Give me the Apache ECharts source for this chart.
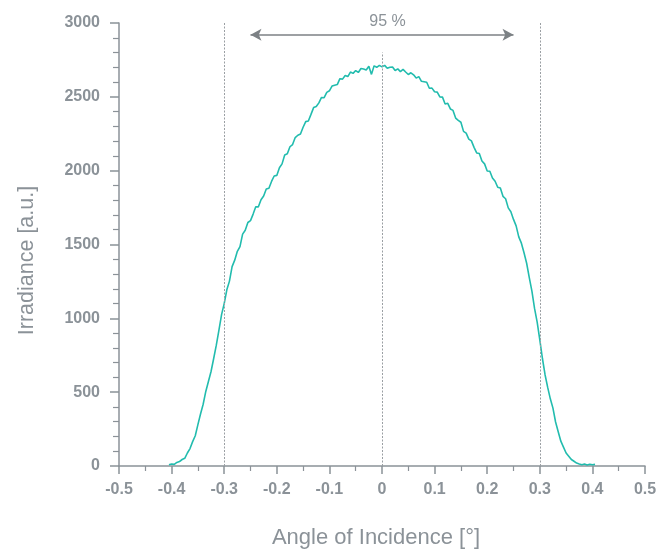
<!DOCTYPE html>
<html>
<head>
<meta charset="utf-8">
<script src="https://cdn.jsdelivr.net/npm/echarts@6/dist/echarts.min.js"></script>
<style>html,body{margin:0;padding:0;background:#fff;}#c{width:671px;height:554px;}</style>
</head>
<body>
<div id="c"></div>
<script>
const angles = [-0.405,-0.400,-0.395,-0.390,-0.385,-0.380,-0.375,-0.370,-0.365,-0.360,-0.355,-0.350,-0.345,-0.340,-0.335,-0.330,-0.325,-0.320,-0.315,-0.310,-0.305,-0.300,-0.295,-0.290,-0.285,-0.280,-0.275,-0.270,-0.265,-0.260,-0.255,-0.250,-0.245,-0.240,-0.235,-0.230,-0.225,-0.220,-0.215,-0.210,-0.205,-0.200,-0.195,-0.190,-0.185,-0.180,-0.175,-0.170,-0.165,-0.160,-0.155,-0.150,-0.145,-0.140,-0.135,-0.130,-0.125,-0.120,-0.115,-0.110,-0.105,-0.100,-0.095,-0.090,-0.085,-0.080,-0.075,-0.070,-0.065,-0.060,-0.055,-0.050,-0.045,-0.040,-0.035,-0.030,-0.025,-0.020,-0.015,-0.010,-0.005,0.000,0.005,0.010,0.015,0.020,0.025,0.030,0.035,0.040,0.045,0.050,0.055,0.060,0.065,0.070,0.075,0.080,0.085,0.090,0.095,0.100,0.105,0.110,0.115,0.120,0.125,0.130,0.135,0.140,0.145,0.150,0.155,0.160,0.165,0.170,0.175,0.180,0.185,0.190,0.195,0.200,0.205,0.210,0.215,0.220,0.225,0.230,0.235,0.240,0.245,0.250,0.255,0.260,0.265,0.270,0.275,0.280,0.285,0.290,0.295,0.300,0.305,0.310,0.315,0.320,0.325,0.330,0.335,0.340,0.345,0.350,0.355,0.360,0.365,0.370,0.375,0.380,0.385,0.390,0.395,0.400,0.405];
const irradiance = [8,14,11,24,30,44,52,88,118,165,205,280,352,418,505,572,640,728,818,920,1025,1100,1193,1252,1350,1394,1454,1486,1570,1596,1649,1662,1706,1755,1755,1803,1828,1876,1881,1927,1964,1968,2020,2046,2106,2114,2162,2177,2224,2240,2248,2294,2332,2336,2381,2427,2434,2459,2496,2494,2530,2541,2573,2579,2583,2623,2620,2644,2637,2668,2659,2678,2665,2692,2689,2682,2707,2652,2710,2700,2713,2703,2713,2693,2700,2702,2678,2689,2671,2686,2668,2651,2663,2649,2627,2637,2605,2602,2599,2558,2559,2534,2532,2500,2498,2452,2456,2418,2408,2356,2340,2328,2266,2254,2214,2202,2158,2120,2116,2066,2046,1998,1996,1950,1928,1888,1882,1826,1810,1748,1722,1670,1626,1552,1509,1444,1373,1276,1184,1067,974,854,728,618,532,455,392,298,232,168,128,88,66,44,32,20,14,9,13,7,12,8,11];
const guideAngles = [-0.3, 0, 0.3];
const guideTops = [3000, 2800, 3000];
const arrowSpan = [-0.25, 0.25];
const arrowLevel = 2920;
const arrowLabel = '95 %';
const xTitle = 'Angle of Incidence [°]';
const yTitle = 'Irradiance [a.u.]';

const gray = '#8b9298';
const font = "'Liberation Sans', Arial, sans-serif";
const chart = echarts.init(document.getElementById('c'), null, {renderer: 'canvas'});
const seriesData = angles.map((a, i) => [a, irradiance[i]]);
chart.setOption({
  animation: false,
  grid: {left: 119, right: 26, top: 23, bottom: 84, containLabel: false},
  xAxis: {
    type: 'value', min: -0.5, max: 0.5, interval: 0.1,
    name: xTitle, nameLocation: 'middle', nameGap: 61,
    nameTextStyle: {color: gray, fontSize: 22, fontFamily: font, padding: [0, 12, 0, 0]},
    axisLine: {show: true, onZero: false, lineStyle: {color: gray, width: 1.5}},
    axisTick: {show: true, inside: false, length: 8, lineStyle: {color: gray, width: 1.5}},
    minorTick: {show: true, splitNumber: 2, length: 5, lineStyle: {color: gray, width: 1.2}},
    splitLine: {show: false},
    axisLabel: {color: gray, fontSize: 16, fontWeight: 'bold', fontFamily: font, margin: 16,
      formatter: v => { const r = Math.round(v * 10) / 10; return r === 0 ? '0' : String(r); }}
  },
  yAxis: {
    type: 'value', min: 0, max: 3000, interval: 500,
    name: yTitle, nameLocation: 'middle', nameGap: 81, nameRotate: 90,
    nameTextStyle: {color: gray, fontSize: 21.5, fontFamily: font, padding: [0, 32, 0, 0]},
    axisLine: {show: true, onZero: false, lineStyle: {color: gray, width: 1.5}},
    axisTick: {show: true, inside: false, length: 9, lineStyle: {color: gray, width: 1.5}},
    minorTick: {show: true, splitNumber: 5, length: 6, lineStyle: {color: gray, width: 1.2}},
    splitLine: {show: false},
    axisLabel: {color: gray, fontSize: 16, fontWeight: 'bold', fontFamily: font, margin: 19,
      formatter: v => String(v)}
  },
  series: [
    {
      type: 'line', data: seriesData, showSymbol: false, symbol: 'none',
      lineStyle: {color: '#22bcae', width: 1.6}, z: 3
    },
    {
      type: 'line', data: [], silent: true, z: 2,
      markLine: {
        silent: true, symbol: ['none', 'none'], animation: false,
        label: {show: false},
        lineStyle: {color: '#9a9fa3', type: [2, 1.5], width: 1},
        data: guideAngles.map((a, i) => [{coord: [a, 0]}, {coord: [a, guideTops[i]]}])
      }
    },
    {
      type: 'line', data: [], silent: true, z: 4,
      markLine: {
        silent: true, symbol: ['arrow', 'arrow'], symbolSize: [9, 11], animation: false,
        lineStyle: {color: '#7c8185', type: 'solid', width: 1.5},
        label: {show: true, position: 'middle', formatter: arrowLabel, color: gray,
          fontSize: 16, fontFamily: font, distance: 5, padding: [0, 0, 0, 11]},
        data: [[{coord: [arrowSpan[0], arrowLevel]}, {coord: [arrowSpan[1], arrowLevel]}]]
      }
    }
  ]
});
</script>
</body>
</html>
